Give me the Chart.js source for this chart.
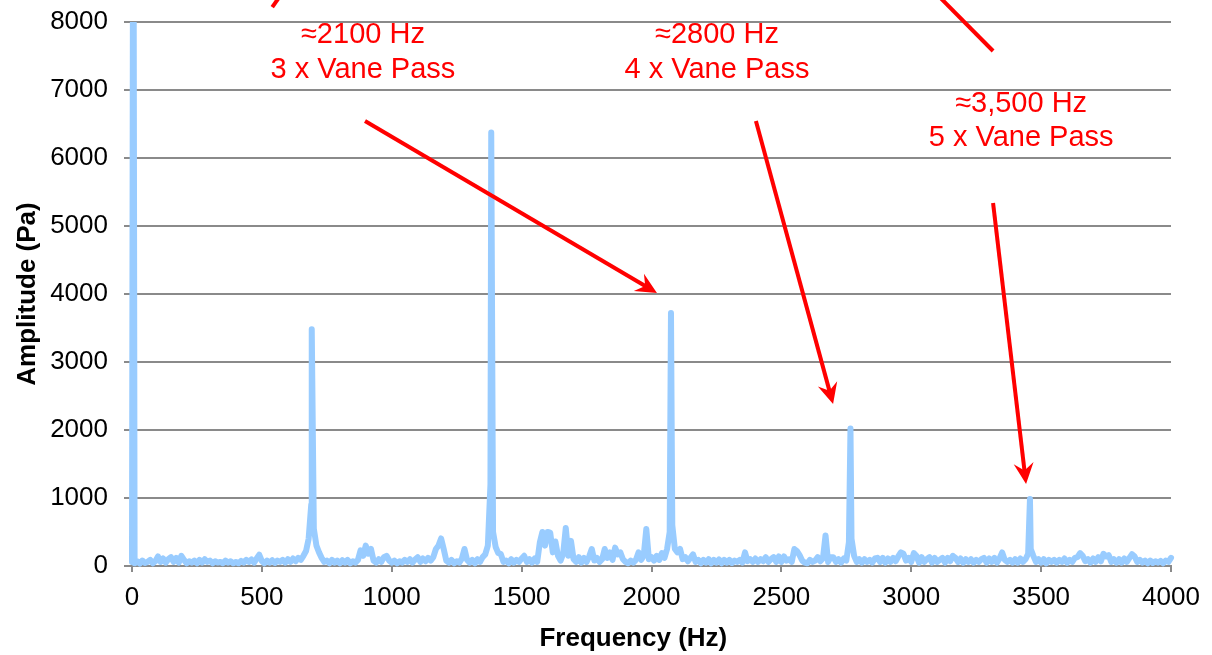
<!DOCTYPE html>
<html>
<head>
<meta charset="utf-8">
<script src="https://cdn.jsdelivr.net/npm/chart.js@4/dist/chart.umd.min.js"></script>
<style>
  body { margin: 0; background: #fff; }
  #wrap { width: 1212px; height: 655px; }
</style>
</head>
<body>
<div id="wrap"><canvas id="chartFft" width="1212" height="655"></canvas></div>
<script>
// FFT noise floor, one value per 10 Hz bin from 0 to 4000 Hz
const binHz = 10;
const noisePa = [
  60, 40, 70, 35, 80, 45, 60, 90, 40, 70,
  140, 60, 110, 50, 100, 130, 60, 120, 50, 150,
  90, 40, 70, 50, 80, 40, 90, 50, 100, 60,
  80, 40, 70, 50, 60, 40, 80, 50, 70, 40,
  60, 40, 75, 50, 90, 60, 95, 50, 110, 165,
  70, 40, 80, 50, 85, 45, 80, 60, 90, 50,
  100, 60, 110, 70, 120, 90, 150, 220, 400, 900,
  550, 300, 200, 120, 60, 80, 40, 90, 50, 80,
  40, 85, 50, 90, 40, 70, 50, 90, 230, 150,
  300, 180, 250, 80, 50, 100, 60, 130, 150, 80,
  50, 80, 40, 70, 50, 90, 60, 100, 50, 95,
  130, 60, 110, 70, 120, 80, 130, 250, 300, 405,
  250, 80, 50, 90, 40, 70, 50, 110, 250, 90,
  50, 90, 40, 100, 60, 130, 170, 300, 1200, 500,
  280, 190, 175, 60, 80, 40, 100, 50, 90, 60,
  110, 150, 60, 100, 50, 110, 60, 345, 500, 300,
  500, 490, 200, 360, 150, 80, 180, 560, 150, 370,
  100, 60, 130, 50, 120, 60, 140, 250, 80, 120,
  60, 100, 250, 120, 200, 90, 270, 170, 200, 100,
  60, 40, 80, 50, 90, 200, 90, 150, 545, 100,
  130, 80, 150, 90, 190, 120, 250, 500, 600, 250,
  200, 250, 100, 130, 70, 120, 170, 60, 90, 40,
  90, 50, 100, 40, 90, 50, 95, 40, 90, 50,
  90, 45, 80, 60, 90, 50, 200, 70, 100, 60,
  110, 60, 100, 70, 130, 60, 100, 130, 60, 140,
  60, 140, 80, 100, 60, 250, 220, 160, 80, 50,
  40, 90, 60, 80, 130, 70, 110, 450, 60, 130,
  130, 60, 100, 50, 110, 80, 350, 400, 150, 60,
  100, 50, 100, 60, 90, 50, 110, 120, 60, 120,
  50, 110, 60, 120, 70, 140, 200, 180, 80, 120,
  60, 190, 150, 50, 130, 60, 100, 130, 50, 120,
  60, 90, 120, 50, 120, 70, 150, 120, 60, 110,
  50, 100, 60, 100, 50, 90, 60, 100, 120, 50,
  110, 60, 120, 50, 110, 200, 90, 60, 90, 50,
  100, 50, 110, 60, 100, 180, 250, 150, 60, 100,
  50, 100, 40, 90, 60, 90, 50, 90, 60, 110,
  50, 90, 60, 120, 130, 190, 150, 70, 100, 50,
  110, 60, 130, 70, 180, 140, 160, 60, 100, 50,
  100, 50, 110, 60, 120, 175, 140, 60, 90, 50,
  80, 40, 80, 45, 70, 50, 75, 40, 80, 60,
  120
];

// tonal peaks (DC + vane pass harmonics)
const peakHz = [5, 692, 1383, 2075, 2766, 3457];
const peakPa = [12000, 3480, 6375, 3720, 2022, 985];

const xTitle = "Frequency (Hz)";
const yTitle = "Amplitude (Pa)";

// annotation text, placed in chart units (Hz, Pa)
const noteText = ["≈2100 Hz", "3 x Vane Pass", "≈2800 Hz", "4 x Vane Pass", "≈3,500 Hz", "5 x Vane Pass"];
const noteHz = [889, 889, 2252, 2252, 3423, 3423];
const notePa = [7810, 7294, 7810, 7294, 6790, 6290];

// arrows: [fromHz, fromPa, toHz, toPa, hasHead]
const arrows = [
  [566, 8360, 540, 8220, false],
  [3111, 8360, 3315, 7574, false],
  [897, 6544, 2021, 4015, true],
  [2402, 6544, 2699, 2382, true],
  [3315, 5338, 3442, 1206, true]
];

const points = noisePa.map((v, i) => ({ x: i * binHz, y: v }));
peakHz.forEach((f, i) => points.push({ x: f, y: peakPa[i] }));
points.sort((a, b) => a.x - b.x);

const gridGray = "#8a8a8a";
const fontFam = "'Liberation Sans', Arial, sans-serif";

const annotate = {
  id: "annotate",
  afterDraw(chart) {
    const ctx = chart.ctx;
    const xs = chart.scales.x;
    const ys = chart.scales.y;
    ctx.save();
    // x axis title, sits a little left of the plot centre as in the original
    ctx.fillStyle = "#000";
    ctx.font = "bold 26px " + fontFam;
    ctx.textAlign = "center";
    ctx.textBaseline = "middle";
    ctx.fillText(xTitle, xs.getPixelForValue(1930), chart.height - 16);

    ctx.fillStyle = "#ff0000";
    ctx.strokeStyle = "#ff0000";
    ctx.font = "29px " + fontFam;
    noteText.forEach((t, i) => {
      ctx.fillText(t, xs.getPixelForValue(noteHz[i]), ys.getPixelForValue(notePa[i]));
    });
    ctx.lineWidth = 4;
    arrows.forEach((a) => {
      const x1 = xs.getPixelForValue(a[0]);
      const y1 = ys.getPixelForValue(a[1]);
      const x2 = xs.getPixelForValue(a[2]);
      const y2 = ys.getPixelForValue(a[3]);
      const ang = Math.atan2(y2 - y1, x2 - x1);
      const dx = Math.cos(ang), dy = Math.sin(ang);
      const len = 21, half = 10;
      let ex = x2, ey = y2;
      if (a[4]) { ex = x2 - dx * len * 0.6; ey = y2 - dy * len * 0.6; }
      ctx.beginPath();
      ctx.moveTo(x1, y1);
      ctx.lineTo(ex, ey);
      ctx.stroke();
      if (a[4]) {
        ctx.beginPath();
        ctx.moveTo(x2, y2);
        ctx.lineTo(x2 - dx * len - dy * half, y2 - dy * len + dx * half);
        ctx.lineTo(x2 - dx * len * 0.65, y2 - dy * len * 0.65);
        ctx.lineTo(x2 - dx * len + dy * half, y2 - dy * len - dx * half);
        ctx.closePath();
        ctx.fill();
      }
    });
    ctx.restore();
  }
};

new Chart(document.getElementById("chartFft"), {
  type: "line",
  data: {
    datasets: [{
      data: points,
      borderColor: "#99ccff",
      borderWidth: 6,
      pointRadius: 0,
      tension: 0,
      borderJoinStyle: "round",
      borderCapStyle: "round",
      clip: { left: 5, top: 0, right: 5, bottom: 5 }
    }]
  },
  options: {
    responsive: false,
    animation: false,
    events: [],
    layout: { padding: { top: 22, right: 41, left: 0, bottom: 0 } },
    plugins: { legend: { display: false }, tooltip: { enabled: false } },
    scales: {
      x: {
        type: "linear",
        min: 0,
        max: 4000,
        afterFit: (s) => { s.height = 89; s.paddingLeft = 0; s.paddingRight = 0; },
        ticks: { stepSize: 500, color: "#000", padding: 10, maxRotation: 0, font: { family: fontFam, size: 26 }, callback: (v) => String(v) },
        grid: { drawOnChartArea: false, drawTicks: true, tickLength: 6, color: gridGray, lineWidth: 2 },
        border: { display: true, color: gridGray, width: 2 }
      },
      y: {
        min: 0,
        max: 8000,
        afterFit: (s) => { s.width = 132; s.paddingTop = 0; s.paddingBottom = 0; },
        ticks: { stepSize: 1000, color: "#000", padding: 16, font: { family: fontFam, size: 26 }, callback: (v) => String(v) },
        grid: { color: gridGray, lineWidth: 2, tickLength: 8 },
        border: { display: true, color: gridGray, width: 2 },
        title: { display: true, text: yTitle, color: "#000", padding: { top: 12, bottom: 0 }, font: { family: fontFam, size: 26, weight: "bold" } }
      }
    }
  },
  plugins: [annotate]
});
</script>
</body>
</html>
